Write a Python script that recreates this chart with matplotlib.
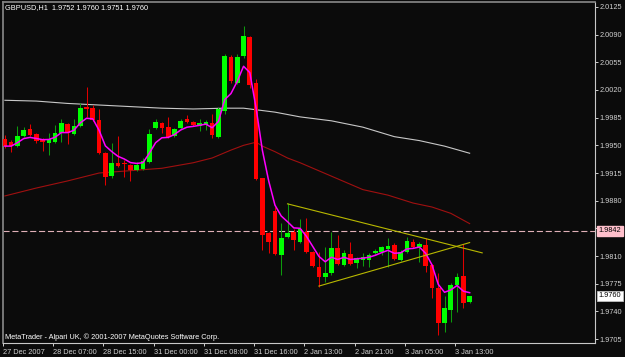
import numpy as np
import pandas as pd
import matplotlib
matplotlib.use("Agg")
import matplotlib.pyplot as plt
import matplotlib.transforms as mtransforms

plt.rcParams['font.family'] = ['Liberation Sans', 'DejaVu Sans']

# GBPUSD H1 candles, 27 Dec 2007 23:00 .. 3 Jan 2008
opens = [1.9958, 1.9954, 1.9949, 1.9962, 1.9971, 1.9964, 1.9958, 1.9953, 1.9954, 1.9966,
         1.9977, 1.9964, 1.9975, 1.9999, 1.9997, 1.9982, 1.9940, 1.9911, 1.9928, 1.9928,
         1.9925, 1.9919, 1.9920, 1.9929, 1.9972, 1.9978, 1.9973, 1.9962, 1.9972, 1.9983,
         1.9980, 1.9975, 1.9976, 1.9978, 1.9961, 1.9994, 2.0062, 2.0029, 2.0063, 2.0087,
         2.0029, 1.9909, 1.9839, 1.9867, 1.9811, 1.9834, 1.9840, 1.9828, 1.9840, 1.9815,
         1.9796, 1.9784, 1.9789, 1.9820, 1.9799, 1.9813, 1.9801, 1.9805, 1.9805, 1.9814,
         1.9815, 1.9819, 1.9824, 1.9805, 1.9815, 1.9828, 1.9821, 1.9824, 1.9799, 1.9770,
         1.9725, 1.9742, 1.9773, 1.9785, 1.9752]
highs = [1.9963, 1.9957, 1.9975, 1.9973, 1.9977, 1.9966, 1.9959, 1.9966, 1.9976, 1.9983,
         1.9978, 1.9983, 2.0004, 2.0024, 2.0001, 1.9996, 1.9942, 1.9953, 1.9962, 1.9931,
         1.9926, 1.9929, 1.9934, 1.9971, 1.9983, 1.9980, 1.9986, 1.9972, 1.9983, 1.9988,
         1.9981, 1.9983, 1.9982, 1.9990, 1.9999, 2.0066, 2.0064, 2.0066, 2.0101, 2.0088,
         2.0034, 1.9909, 1.9840, 1.9872, 1.9852, 1.9877, 1.9844, 1.9857, 1.9858, 1.9816,
         1.9815, 1.9821, 1.9840, 1.9837, 1.9818, 1.9828, 1.9809, 1.9814, 1.9814, 1.9819,
         1.9823, 1.9833, 1.9827, 1.9818, 1.9834, 1.9832, 1.9828, 1.9833, 1.9800, 1.9789,
         1.9759, 1.9776, 1.9789, 1.9825, 1.9760]
lows = [1.9947, 1.9942, 1.9948, 1.9961, 1.9962, 1.9953, 1.9943, 1.9938, 1.9953, 1.9954,
        1.9952, 1.9963, 1.9973, 1.9986, 1.9981, 1.9939, 1.9900, 1.9909, 1.9923, 1.9910,
        1.9905, 1.9918, 1.9919, 1.9928, 1.9971, 1.9966, 1.9959, 1.9961, 1.9971, 1.9978,
        1.9975, 1.9968, 1.9969, 1.9959, 1.9959, 1.9990, 2.0029, 2.0028, 2.0061, 2.0023,
        1.9906, 1.9818, 1.9814, 1.9811, 1.9786, 1.9833, 1.9818, 1.9827, 1.9814, 1.9796,
        1.9771, 1.9777, 1.9786, 1.9799, 1.9797, 1.9799, 1.9795, 1.9797, 1.9796, 1.9813,
        1.9811, 1.9796, 1.9805, 1.9804, 1.9814, 1.9820, 1.9802, 1.9790, 1.9757, 1.9710,
        1.9714, 1.9727, 1.9739, 1.9744, 1.9751]
closes = [1.9949, 1.9949, 1.9962, 1.9969, 1.9963, 1.9956, 1.9954, 1.9958, 1.9966, 1.9978,
          1.9966, 1.9975, 1.9997, 1.9996, 1.9982, 1.9940, 1.9910, 1.9928, 1.9924, 1.9926,
          1.9919, 1.9925, 1.9930, 1.9964, 1.9980, 1.9972, 1.9961, 1.9971, 1.9981, 1.9980,
          1.9976, 1.9978, 1.9980, 1.9963, 1.9996, 2.0063, 2.0031, 2.0062, 2.0088, 2.0026,
          1.9907, 1.9837, 1.9828, 1.9813, 1.9833, 1.9839, 1.9830, 1.9844, 1.9815, 1.9797,
          1.9784, 1.9789, 1.9820, 1.9800, 1.9814, 1.9800, 1.9808, 1.9809, 1.9811, 1.9816,
          1.9821, 1.9823, 1.9806, 1.9815, 1.9829, 1.9821, 1.9825, 1.9797, 1.9770, 1.9725,
          1.9744, 1.9773, 1.9784, 1.9751, 1.9760]

symbol = "GBPUSD,H1"
tick_bars = [0, 8, 16, 24, 32, 40, 48, 56, 64, 72]
tick_labels = ["27 Dec 2007", "28 Dec 07:00", "28 Dec 15:00", "31 Dec 00:00", "31 Dec 08:00",
               "31 Dec 16:00", "2 Jan 13:00", "2 Jan 21:00", "3 Jan 05:00", "3 Jan 13:00"]
price_ticks = [1.9705, 1.9740, 1.9775, 1.9810, 1.9845, 1.9880, 1.9915,
               1.9950, 1.9985, 2.0020, 2.0055, 2.0090, 2.0125]

white_ma_bars = [0, 5, 10, 15, 20, 25, 30, 35, 38, 40, 43, 47, 52, 57, 62, 66, 70, 74]
white_ma_vals = [2.0007, 2.0006, 2.0003, 2.0001, 1.9999, 1.9997, 1.9996, 1.9997, 1.9997,
                 1.9995, 1.9992, 1.9986, 1.9981, 1.9973, 1.9961, 1.9956, 1.9949, 1.9940]
red_ma_bars = [0, 5, 10, 15, 20, 25, 30, 33, 36, 38, 40, 41, 43, 45, 47, 52, 57, 61, 65, 68, 71, 74]
red_ma_vals = [1.9886, 1.9896, 1.9905, 1.9915, 1.9918, 1.9921, 1.9928, 1.9934, 1.9944, 1.9950,
               1.9954, 1.9949, 1.9942, 1.9934, 1.9928, 1.9911, 1.9894, 1.9887, 1.9877, 1.9872,
               1.9864, 1.9851]

# triangle trendlines and horizontal level
upper_line_bars = [45, 76]
upper_line_vals = [1.9876, 1.9814]
lower_line_bars = [50, 74]
lower_line_vals = [1.9772, 1.9827]
hline_price = 1.9842

BG = '#0b0b0b'
FS = 5.3

fig = plt.figure(figsize=(6.25, 3.57), dpi=100, facecolor=BG)
ax = fig.add_axes([3 / 625, 14 / 357, 592 / 625, 341 / 357], facecolor=BG)

o = np.array(opens)
h = np.array(highs)
l = np.array(lows)
c = np.array(closes)
x = np.arange(len(o))
up = c >= o

# wicks
ax.vlines(x[up], l[up], h[up], color='#0c9c0c', lw=0.75, zorder=2)
ax.vlines(x[~up], l[~up], h[~up], color='#e00000', lw=0.75, zorder=2)
# bodies
body_h = np.maximum(np.abs(c - o), 0.00012)
ax.bar(x[up], body_h[up], bottom=np.minimum(o, c)[up], width=0.74,
       color='#00ff00', linewidth=0, zorder=3)
ax.bar(x[~up], body_h[~up], bottom=np.minimum(o, c)[~up], width=0.74,
       color='#ff0000', linewidth=0, zorder=3)

# indicators
fast_ma = pd.Series(closes).ewm(span=5, adjust=False).mean()
ax.plot(x, fast_ma, color='#ff00ff', lw=1.1, zorder=4)
ax.plot(white_ma_bars, white_ma_vals, color='#c8c8c8', lw=0.8, zorder=1)
ax.plot(red_ma_bars, red_ma_vals, color='#a01010', lw=0.8, zorder=1)

ax.plot(upper_line_bars, upper_line_vals, color='#b8b800', lw=0.8, zorder=5)
ax.plot(lower_line_bars, lower_line_vals, color='#b8b800', lw=0.8, zorder=5)
ax.axhline(hline_price, color='#e0b0b8', lw=0.8, ls=(0, (5.5, 2.5)), zorder=1)

ax.set_xlim(-0.16, 93.96)
ax.set_ylim(1.9700, 2.01313)

# axes frame
for side in ['left', 'top']:
    ax.spines[side].set_color('#808080')
    ax.spines[side].set_linewidth(1.3)
for side in ['right', 'bottom']:
    ax.spines[side].set_color('#c8c8c8')
    ax.spines[side].set_linewidth(0.8)

ax.yaxis.tick_right()
ax.set_yticks(price_ticks)
ax.set_yticklabels([f"{p:.4f}" for p in price_ticks])
ax.tick_params(axis='y', colors='#d0d0d0', labelsize=FS, length=2, width=0.7, pad=1.2)

ax.set_xticks([b - 0.3 for b in tick_bars])
ax.set_xticklabels(tick_labels, ha='left')
ax.tick_params(axis='x', colors='#d0d0d0', labelsize=FS, length=2.5, width=0.7, pad=1.5)

# price markers on the scale
trans = mtransforms.blended_transform_factory(ax.transAxes, ax.transData)
ax.text(1.0065, hline_price, f"{hline_price:.4f}", transform=trans, fontsize=FS,
        color='black', va='center', ha='left', clip_on=False, zorder=10,
        bbox=dict(boxstyle='square,pad=0.2', fc='#ffc0cc', ec='#ffc0cc'))
ax.text(1.0065, closes[-1], f"{closes[-1]:.4f}", transform=trans, fontsize=FS,
        color='black', va='center', ha='left', clip_on=False, zorder=10,
        bbox=dict(boxstyle='square,pad=0.2', fc='white', ec='#c0c0c0', lw=0.6))

header = f"{symbol}  {opens[-1]:.4f} {highs[-1]:.4f} {lows[-1]:.4f} {closes[-1]:.4f}"
fig.text(5 / 625, 1 - 8 / 357, header, color='white', fontsize=FS, va='center', ha='left')
fig.text(5 / 625, 1 - 337 / 357, "MetaTrader - Alpari UK, \u00a9 2001-2007 MetaQuotes Software Corp.",
         color='white', fontsize=FS, va='center', ha='left')

fig.savefig("out.png", dpi=100, facecolor=BG)
